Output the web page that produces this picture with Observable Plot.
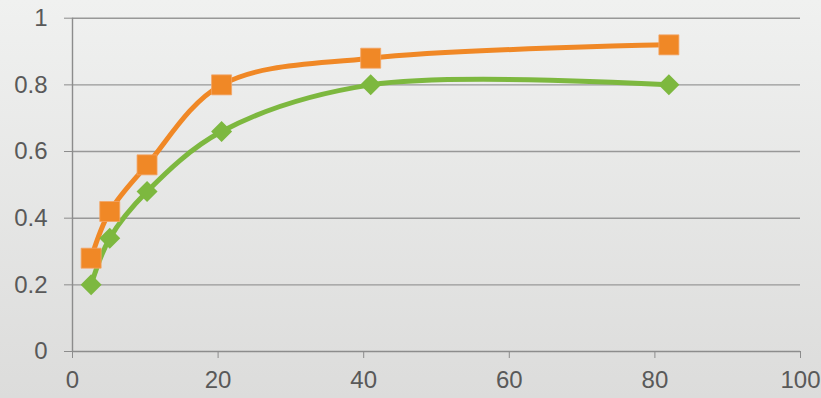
<!DOCTYPE html>
<html>
<head>
<meta charset="utf-8">
<script src="https://cdn.jsdelivr.net/npm/d3@7"></script>
<script src="https://cdn.jsdelivr.net/npm/@observablehq/plot@0.6"></script>
<style>
  html, body { margin: 0; padding: 0; }
  body { width: 821px; height: 398px; background: linear-gradient(to bottom, #f0f1f0 0%, #dcdcdb 100%); overflow: hidden; }
  #chart svg { display: block; background: transparent; }
</style>
</head>
<body>
<div id="chart"></div>
<script>
const xValues = [2.56, 5.12, 10.24, 20.48, 40.96, 81.92];
const orangeValues = [0.28, 0.42, 0.56, 0.80, 0.88, 0.92];
const greenValues = [0.20, 0.34, 0.48, 0.66, 0.80, 0.80];
const xTicks = [0, 20, 40, 60, 80, 100];
const yTicks = [0, 0.2, 0.4, 0.6, 0.8, 1];

const orange = xValues.map((x, i) => ({x, y: orangeValues[i]}));
const green = xValues.map((x, i) => ({x, y: greenValues[i]}));

const diamond = {
  draw(context, size) {
    const h = Math.sqrt(size / 2);
    context.moveTo(0, -h);
    context.lineTo(h, 0);
    context.lineTo(0, h);
    context.lineTo(-h, 0);
    context.closePath();
  }
};

const chart = Plot.plot({
  width: 821,
  height: 398,
  marginLeft: 72,
  marginRight: 21,
  marginTop: 17.7,
  marginBottom: 47,
  style: {background: "transparent", fontFamily: "'Liberation Sans', Arial, sans-serif"},
  x: {domain: [0, 100], label: null},
  y: {domain: [0, 1], label: null},
  marks: [
    Plot.ruleY(yTicks.filter(d => d > 0), {stroke: "#989898", strokeWidth: 1.4}),
    Plot.axisY({ticks: yTicks, tickSize: 8, tickPadding: 17, stroke: "#8c8c8c", fill: "#595959", fontSize: 24, label: null, tickFormat: d => String(d)}),
    Plot.axisX({ticks: xTicks, tickSize: 7, tickPadding: 12, stroke: "#8c8c8c", fill: "#595959", fontSize: 24, label: null, tickFormat: d => String(d)}),
    Plot.ruleX([0], {stroke: "#8c8c8c", strokeWidth: 1.4}),
    Plot.ruleY([0], {stroke: "#8c8c8c", strokeWidth: 1.4}),
    Plot.line(green, {x: "x", y: "y", stroke: "#7db83f", strokeWidth: 5, curve: "catmull-rom"}),
    Plot.line(orange, {x: "x", y: "y", stroke: "#f08826", strokeWidth: 5, curve: "catmull-rom"}),
    Plot.dot(green, {x: "x", y: "y", symbol: diamond, r: Math.sqrt(2 * 10.5 * 10.5 / Math.PI), fill: "#7db83f", stroke: "none"}),
    Plot.dot(orange, {x: "x", y: "y", symbol: "square", r: Math.sqrt(400 / Math.PI), fill: "#f08826", stroke: "#f3a566", strokeWidth: 0.8})
  ]
});
document.getElementById("chart").appendChild(chart);
</script>
</body>
</html>
